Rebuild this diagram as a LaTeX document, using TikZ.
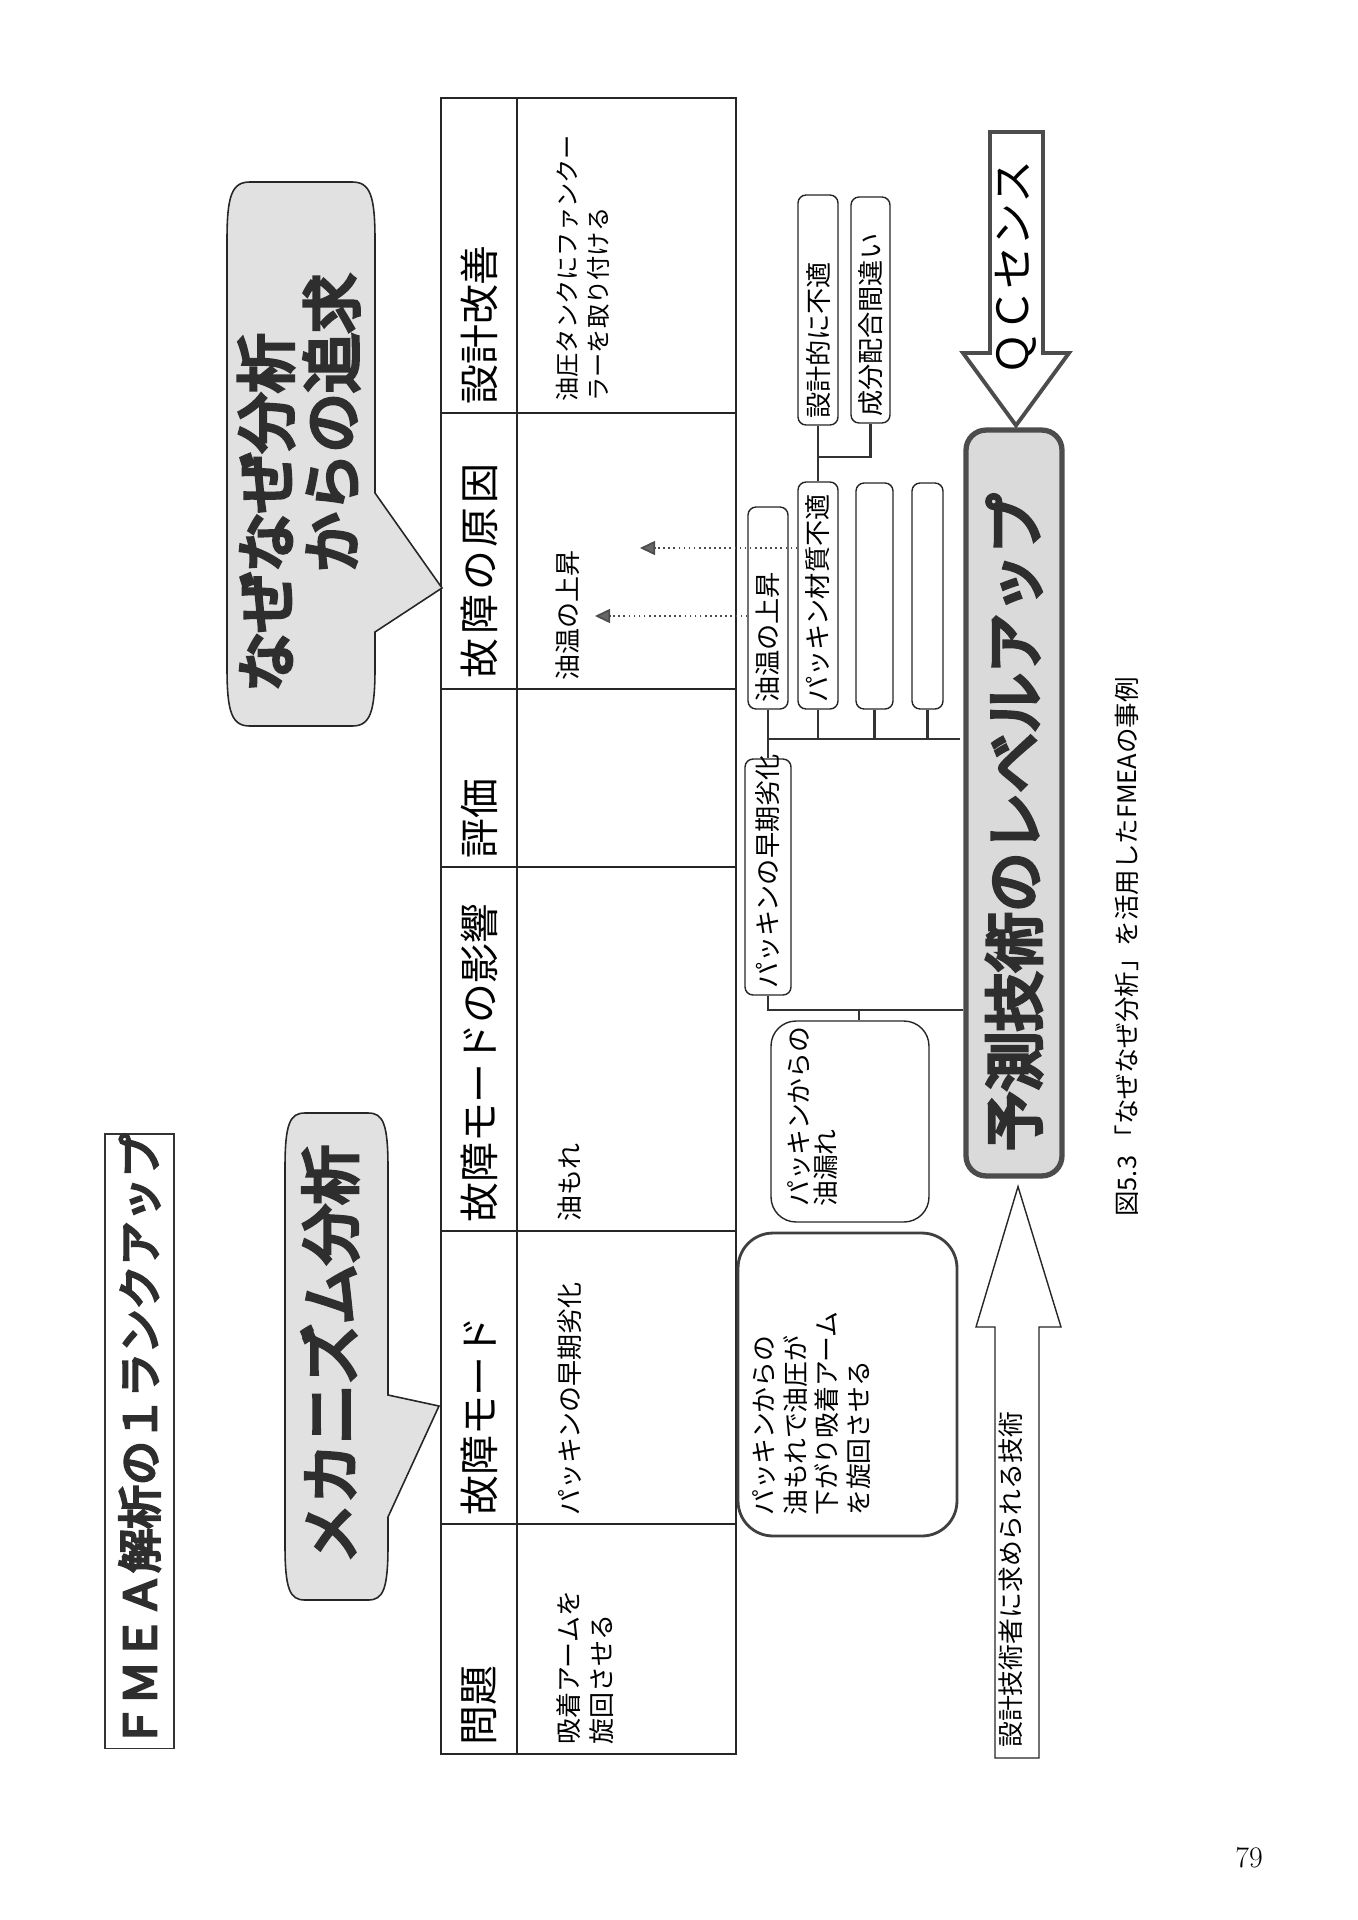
\documentclass[tikz,border=0pt]{standalone}
\usepackage{fontspec}
\newfontfamily\jp{Noto Sans CJK JP}
\usetikzlibrary{arrows.meta,calc}

\definecolor{bubblegray}{HTML}{E1E1E1}
\definecolor{predgray}{HTML}{DADADA}
\definecolor{ink}{HTML}{2E2E2E}
% heavy lettering: fill and stroke the glyphs
\newcommand{\heavyink}[1]{\special{pdf:literal direct 2 Tr #1 w}}
\newcommand{\bigjp}{\jp\fontsize{34}{37.4}\selectfont\heavyink{2.1}}

\begin{document}
\begin{tikzpicture}[
    x=0.02cm, y=-0.02cm,
    tline/.style={draw=black!85, line width=0.8pt},
    head/.style={font=\jp\fontsize{22.7}{26}\selectfont, rotate=90, anchor=west, inner sep=0},
    cellnote/.style={font=\jp\fontsize{14.8}{18.7}\selectfont, rotate=90, anchor=north west, align=left, inner sep=0},
    boxnote/.style={font=\jp\fontsize{14.7}{18.1}\selectfont, rotate=90, anchor=north west, align=left, inner sep=0},
    cause/.style={draw=black!85, line width=0.8pt, rounded corners=0.16cm, fill=white, rotate=90, align=left, inner xsep=0.12cm, inner ysep=0pt, font=\jp\fontsize{14.9}{18}\selectfont},
    bubble/.style={draw=black!85, line width=0.9pt, fill=bubblegray},
    heavy/.style={font=\bigjp, text=ink, rotate=90, inner sep=0},
    link/.style={draw=black!80, line width=1.5pt},
    pointer/.style={draw=black!70, dotted, line width=0.9pt, -{Triangle[length=0.3cm, width=0.28cm, fill=black!60]}},
    blockarrow/.style={draw=black!85, fill=white, line width=0.8pt}
]
\useasboundingbox (0,0) rectangle (1357,1920);

% Title
\node[draw=black!80, line width=1.1pt, rotate=90, minimum width=12.08cm, minimum height=1.38cm, inner sep=0,
      font=\jp\fontsize{25}{28}\selectfont\heavyink{1.5}, text=ink] (title) at (139.5,1441) {ＦＭＥＡ解析の１ランクアップ};

% Table
\draw[tline] (441,98) rectangle (736,1754);
\draw[tline] (517,98) -- (517,1754);
\foreach \yy in {413,689,867,1231,1524}
    \draw[tline] (441,\yy) -- (736,\yy);

\node[head] (hprob) at (479,1746) {問題};
\node[head] (hmode) at (479,1516) {故障モード};
\node[head] (heff) at (479,1223) {故障モードの影響};
\node[head] (heval) at (479,859) {評価};
\node[head] (hcause) at (479,679) {\addfontfeature{LetterSpace=10}故障の原因};
\node[head] (hfix) at (479,405) {設計改善};

\node[cellnote] (pnote) at (556,1745) {吸着アームを\\旋回させる};
\node[cellnote] (mnote) at (557,1516) {パッキンの早期劣化};
\node[cellnote] (enote) at (557,1222) {油もれ};
\node[cellnote] (cnote) at (555,681) {油温の上昇};
\node[cellnote, font=\jp\fontsize{13.8}{17.5}\selectfont] (fnote) at (556,402) {油圧タンクにファンクー\\ラーを取り付ける};

% Speech bubbles
\draw[bubble] (285,1168) .. controls (285,1123) and (290,1113) .. (305,1113) -- (368,1113)
    .. controls (383,1113) and (388,1123) .. (388,1168) -- (388,1395) -- (439,1406) -- (388,1517)
    -- (388,1545) .. controls (388,1590) and (383,1600) .. (368,1600) -- (305,1600)
    .. controls (290,1600) and (285,1590) .. (285,1545) -- cycle;
\node[heavy] (mechlabel) at (330,1354) {メカニズム分析};

\draw[bubble] (227,240) .. controls (227,195) and (232,182) .. (250,182) -- (352,182)
    .. controls (370,182) and (375,195) .. (375,240) -- (375,493) -- (442,588) -- (375,632)
    -- (375,668) .. controls (375,713) and (370,726) .. (352,726) -- (250,726)
    .. controls (232,726) and (227,713) .. (227,668) -- cycle;
\node[heavy, anchor=north west, align=left] (nazelabel) at (238,692) {なぜなぜ分析\\　　からの追求};

% Why-why boxes
\node[cause, minimum height=0.8cm, text width=4.36cm] (sekkei) at (818,310) {設計的に不適};
\node[cause, minimum height=0.78cm, text width=4.28cm] (seibun) at (870.5,310) {成分配合間違い};
\node[cause, minimum height=0.8cm, text width=3.80cm] (yuon) at (768,608) {油温の上昇};
\node[cause, minimum height=0.8cm, text width=4.30cm] (zaishitsu) at (818,595.5) {パッキン材質不適};
\node[cause, minimum height=0.74cm, text width=4.28cm] (e3) at (874.5,596) {};
\node[cause, minimum height=0.62cm, text width=4.28cm] (e4) at (927.5,596) {};
\node[cause, minimum height=0.92cm, text width=4.48cm] (soki) at (768,877) {パッキンの早期劣化};

\node[draw=black!85, line width=0.8pt, rounded corners=0.5cm, fill=white, rotate=90,
      minimum width=4.02cm, minimum height=3.16cm] (moreBox) at (850,1121.5) {};
\node[boxnote, font=\jp\fontsize{14.7}{15.5}\selectfont] (morenote) at (787,1207) {パッキンからの\\油漏れ};

\node[draw=black!75, line width=1.6pt, rounded corners=0.7cm, fill=white, rotate=90,
      minimum width=6.06cm, minimum height=4.38cm] (leak) at (847.5,1384.5) {};
\node[boxnote] (leaknote) at (752,1516) {パッキンからの\\油もれで油圧が\\下がり吸着アーム\\を旋回させる};

% Prediction box
\node[draw=black!70, line width=3pt, fill=predgray, rounded corners=0.4cm, rotate=90,
      minimum height=1.92cm, text width=13.92cm, inner xsep=0.5cm, inner ysep=0pt,
      align=left, font=\bigjp, text=ink] (pred) at (1014,803) {予測技術のレベルアップ};

% Tree links
\coordinate (busR) at (960,739);
\coordinate (j2) at (818,457);
\coordinate (j3) at (859,1010);
\draw[link] (yuon.west) -- (soki.east);
\draw[link] (yuon.west |- busR) -- (busR);
\foreach \b in {zaishitsu,e3,e4}
    \draw[link] (\b.west) -- (\b.west |- busR);
\draw[link] (sekkei.west) -- (zaishitsu.east);
\draw[link] (seibun.west) |- (j2);
\draw[link] (soki.west) |- (j3 -| pred.north);
\draw[link] (j3) -- (j3 |- moreBox.east);

% Dotted pointers back to the table
\coordinate (tipA) at (640,548);
\coordinate (tipB) at (595,616);
\draw[pointer] (zaishitsu.north |- tipA) -- (tipA);
\draw[pointer] (yuon.north |- tipB) -- (tipB);

% Block arrows
\draw[draw=black!70, line width=2.2pt, fill=white] (990,132) -- (1043,132) -- (1043,353) -- (1069,353)
    -- ($(pred.east)+(2,-2)$) -- (963,353) -- (990,353) -- cycle;
\node[font=\jp\fontsize{24.5}{27}\selectfont, rotate=90, inner sep=0] (qclabel) at (1016,268) {ＱＣセンス};

\draw[blockarrow] (995,1758) -- (1039,1758) -- (1039,1327) -- (1061,1327)
    -- ($(pred.west)+(4,8)$) -- (976,1327) -- (995,1327) -- cycle;
\node[boxnote, anchor=west] (techlabel) at (1011,1748) {設計技術者に求められる技術};

% Caption and page number
\node[font=\jp\fontsize{14.5}{16}\selectfont, rotate=90, anchor=west, inner sep=0] (caption) at (1127,1217)
    {図5.3 「なぜなぜ分析」を活用したFMEAの事例};
\node[font=\fontsize{17}{20}\selectfont, inner sep=0] (pageno) at (1249,1858) {79};

\end{tikzpicture}
\end{document}
